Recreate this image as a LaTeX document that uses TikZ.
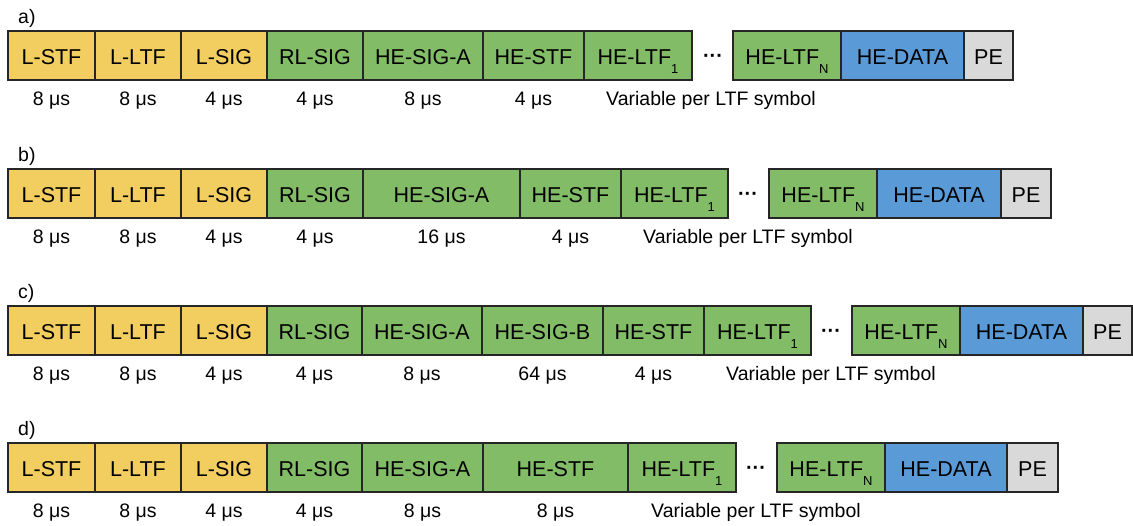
\documentclass[tikz,border=0pt]{standalone}
\usepackage{fontspec}
\setmainfont{Liberation Sans}
\usetikzlibrary{positioning}
\definecolor{jaune}{RGB}{242,205,96}
\definecolor{vert}{RGB}{130,188,102}
\definecolor{bleu}{RGB}{90,155,215}
\definecolor{gris}{RGB}{217,217,217}
\newcommand{\sousind}[1]{\raisebox{-8.5pt}{\fontsize{13}{14}\selectfont #1}}

\begin{document}
\begin{tikzpicture}[x=1pt,y=-1pt]
% Dimensions
\def\Ht{49}
\def\Ya{31}
\def\Yb{169}
\def\Yc{306}
\def\Yd{443}
% Styles
\tikzstyle{champ}=[draw=black!85,line width=1.2pt,minimum height=\Ht,inner sep=0pt,text height=18pt,text depth=0pt,font=\fontsize{21.5}{25}\selectfont]
\tikzstyle{legacy}=[champ,fill=jaune]
\tikzstyle{he}=[champ,fill=vert]
\tikzstyle{donnees}=[champ,fill=bleu]
\tikzstyle{remplissage}=[champ,fill=gris]
\tikzstyle{duree}=[anchor=base,font=\fontsize{19.5}{23}\selectfont]
\tikzstyle{titre}=[anchor=base west,inner sep=0pt,font=\fontsize{19.5}{23}\selectfont]
\tikzstyle{points}=[anchor=base,inner sep=0pt,font=\bfseries\fontsize{20}{24}\selectfont]
\useasboundingbox (0,0) rectangle (1133,525);
% Trame a)
\node[titre] (ta) at (18,{\Ya-8}) {a)};
\node[legacy,minimum width=87] (a1) at (51.5,{\Ya+24.5}) {L-STF};
\node[legacy,minimum width=86] (a2) at (138,{\Ya+24.5}) {L-LTF};
\node[legacy,minimum width=86] (a3) at (224,{\Ya+24.5}) {L-SIG};
\node[he,minimum width=96] (a4) at (315,{\Ya+24.5}) {RL-SIG};
\node[he,minimum width=120] (a5) at (423,{\Ya+24.5}) {HE-SIG-A};
\node[he,minimum width=101] (a6) at (533.5,{\Ya+24.5}) {HE-STF};
\node[he,minimum width=108] (a7) at (638,{\Ya+24.5}) {HE-LTF\sousind{1}};
\node[points] (pa) at (713,{\Ya+31}) {···};
\node[he,minimum width=108] (a8) at (787,{\Ya+24.5}) {HE-LTF\sousind{N}};
\node[donnees,minimum width=123] (a9) at (902.5,{\Ya+24.5}) {HE-DATA};
\node[remplissage,minimum width=49] (a10) at (988.5,{\Ya+24.5}) {PE};
\node[duree] (da1) at (51.5,{\Ya+74}) {8 μs};
\node[duree] (da2) at (138,{\Ya+74}) {8 μs};
\node[duree] (da3) at (224,{\Ya+74}) {4 μs};
\node[duree] (da4) at (315,{\Ya+74}) {4 μs};
\node[duree] (da5) at (423,{\Ya+74}) {8 μs};
\node[duree] (da6) at (533.5,{\Ya+74}) {4 μs};
\node[duree] (va) at (711,{\Ya+74}) {Variable per LTF symbol};
% Trame b)
\node[titre] (tb) at (18,{\Yb-8}) {b)};
\node[legacy,minimum width=87] (b1) at (51.5,{\Yb+24.5}) {L-STF};
\node[legacy,minimum width=86] (b2) at (138,{\Yb+24.5}) {L-LTF};
\node[legacy,minimum width=86] (b3) at (224,{\Yb+24.5}) {L-SIG};
\node[he,minimum width=96] (b4) at (315,{\Yb+24.5}) {RL-SIG};
\node[he,minimum width=157] (b5) at (441.5,{\Yb+24.5}) {HE-SIG-A};
\node[he,minimum width=101] (b6) at (570.5,{\Yb+24.5}) {HE-STF};
\node[he,minimum width=107] (b7) at (674.5,{\Yb+24.5}) {HE-LTF\sousind{1}};
\node[points] (pb) at (748,{\Yb+31}) {···};
\node[he,minimum width=108] (b8) at (823,{\Yb+24.5}) {HE-LTF\sousind{N}};
\node[donnees,minimum width=124] (b9) at (939,{\Yb+24.5}) {HE-DATA};
\node[remplissage,minimum width=50] (b10) at (1026,{\Yb+24.5}) {PE};
\node[duree] (db1) at (51.5,{\Yb+74}) {8 μs};
\node[duree] (db2) at (138,{\Yb+74}) {8 μs};
\node[duree] (db3) at (224,{\Yb+74}) {4 μs};
\node[duree] (db4) at (315,{\Yb+74}) {4 μs};
\node[duree] (db5) at (441.5,{\Yb+74}) {16 μs};
\node[duree] (db6) at (570.5,{\Yb+74}) {4 μs};
\node[duree] (vb) at (748,{\Yb+74}) {Variable per LTF symbol};
% Trame c)
\node[titre] (tc) at (18,{\Yc-8}) {c)};
\node[legacy,minimum width=87] (c1) at (51.5,{\Yc+24.5}) {L-STF};
\node[legacy,minimum width=86] (c2) at (138,{\Yc+24.5}) {L-LTF};
\node[legacy,minimum width=86] (c3) at (224,{\Yc+24.5}) {L-SIG};
\node[he,minimum width=95] (c4) at (314.5,{\Yc+24.5}) {RL-SIG};
\node[he,minimum width=120] (c5) at (422,{\Yc+24.5}) {HE-SIG-A};
\node[he,minimum width=121] (c6) at (542.5,{\Yc+24.5}) {HE-SIG-B};
\node[he,minimum width=101] (c7) at (653.5,{\Yc+24.5}) {HE-STF};
\node[he,minimum width=107] (c8) at (757.5,{\Yc+24.5}) {HE-LTF\sousind{1}};
\node[points] (pc) at (831,{\Yc+31}) {···};
\node[he,minimum width=108] (c9) at (906,{\Yc+24.5}) {HE-LTF\sousind{N}};
\node[donnees,minimum width=123] (c10) at (1021.5,{\Yc+24.5}) {HE-DATA};
\node[remplissage,minimum width=49] (c11) at (1107.5,{\Yc+24.5}) {PE};
\node[duree] (dc1) at (51.5,{\Yc+74}) {8 μs};
\node[duree] (dc2) at (138,{\Yc+74}) {8 μs};
\node[duree] (dc3) at (224,{\Yc+74}) {4 μs};
\node[duree] (dc4) at (314.5,{\Yc+74}) {4 μs};
\node[duree] (dc5) at (422,{\Yc+74}) {8 μs};
\node[duree] (dc6) at (542.5,{\Yc+74}) {64 μs};
\node[duree] (dc7) at (653.5,{\Yc+74}) {4 μs};
\node[duree] (vc) at (831,{\Yc+74}) {Variable per LTF symbol};
% Trame d)
\node[titre] (td) at (18,{\Yd-8}) {d)};
\node[legacy,minimum width=87] (d1) at (51.5,{\Yd+24.5}) {L-STF};
\node[legacy,minimum width=86] (d2) at (138,{\Yd+24.5}) {L-LTF};
\node[legacy,minimum width=86] (d3) at (224,{\Yd+24.5}) {L-SIG};
\node[he,minimum width=95] (d4) at (314.5,{\Yd+24.5}) {RL-SIG};
\node[he,minimum width=121] (d5) at (422.5,{\Yd+24.5}) {HE-SIG-A};
\node[he,minimum width=145] (d6) at (555.5,{\Yd+24.5}) {HE-STF};
\node[he,minimum width=108] (d7) at (682,{\Yd+24.5}) {HE-LTF\sousind{1}};
\node[points] (pd) at (756,{\Yd+31}) {···};
\node[he,minimum width=108] (d8) at (831,{\Yd+24.5}) {HE-LTF\sousind{N}};
\node[donnees,minimum width=122] (d9) at (946,{\Yd+24.5}) {HE-DATA};
\node[remplissage,minimum width=51] (d10) at (1032.5,{\Yd+24.5}) {PE};
\node[duree] (dd1) at (51.5,{\Yd+74}) {8 μs};
\node[duree] (dd2) at (138,{\Yd+74}) {8 μs};
\node[duree] (dd3) at (224,{\Yd+74}) {4 μs};
\node[duree] (dd4) at (314.5,{\Yd+74}) {4 μs};
\node[duree] (dd5) at (422.5,{\Yd+74}) {8 μs};
\node[duree] (dd6) at (555.5,{\Yd+74}) {8 μs};
\node[duree] (vd) at (756,{\Yd+74}) {Variable per LTF symbol};
\end{tikzpicture}
\end{document}
